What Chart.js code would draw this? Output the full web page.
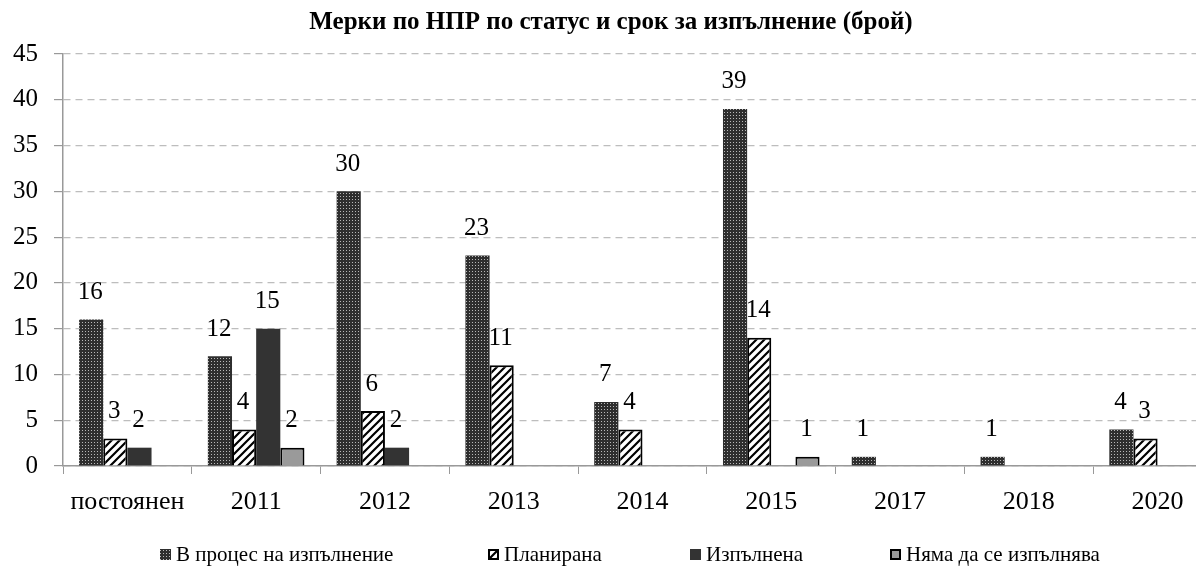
<!DOCTYPE html>
<html lang="bg">
<head>
<meta charset="utf-8">
<title>Мерки по НПР по статус и срок за изпълнение</title>
<script src="https://cdn.jsdelivr.net/npm/chart.js@4/dist/chart.umd.min.js"></script>
<style>
  html, body { margin: 0; padding: 0; background: #fff; overflow: hidden; }
  #wrap { width: 1260px; height: 568px; position: relative; }
</style>
</head>
<body>
<div id="wrap"><canvas id="nprChart"></canvas></div>
<script>
// Chart data
const categories = ['постоянен', '2011', '2012', '2013', '2014', '2015', '2017', '2018', '2020'];
const seriesNames = ['В процес на изпълнение', 'Планирана', 'Изпълнена', 'Няма да се изпълнява'];
const inProgress = [16, 12, 30, 23, 7, 39, 1, 1, 4];
const planned = [3, 4, 6, 11, 4, 14, null, null, 3];
const done = [2, 15, 2, null, null, null, null, null, null];
const wontDo = [null, 2, null, null, null, 1, null, null, null];
const yTicks = [0, 5, 10, 15, 20, 25, 30, 35, 40, 45];

const SERIF = '"Liberation Serif", "Times New Roman", serif';

// Fill patterns
function dotPattern() {
  const c = document.createElement('canvas');
  c.width = 3; c.height = 3;
  const g = c.getContext('2d');
  g.fillStyle = '#2e2e2e';
  g.fillRect(0, 0, 3, 3);
  g.fillStyle = '#b8b8b8';
  g.fillRect(1, 1, 1, 1);
  return g.createPattern(c, 'repeat');
}

function hatchPattern() {
  const c = document.createElement('canvas');
  c.width = 8; c.height = 8;
  const g = c.getContext('2d');
  g.fillStyle = '#fff';
  g.fillRect(0, 0, 8, 8);
  g.strokeStyle = '#000';
  g.lineWidth = 2.2;
  g.beginPath();
  g.moveTo(-2, 10); g.lineTo(10, -2);
  g.moveTo(-6, 6); g.lineTo(6, -6);
  g.moveTo(2, 14); g.lineTo(14, 2);
  g.stroke();
  return g.createPattern(c, 'repeat');
}

const fills = [dotPattern(), hatchPattern(), '#333333', '#9a9a9a'];
const borders = ['#2e2e2e', '#000', '#333333', '#000'];
const borderWidths = [0, 2, 0, 2];

// Value labels above the bars
const valueLabels = {
  id: 'valueLabels',
  afterDatasetsDraw(chart) {
    const ctx = chart.ctx;
    ctx.save();
    ctx.font = '25px ' + SERIF;
    ctx.fillStyle = '#000';
    ctx.textAlign = 'center';
    ctx.textBaseline = 'middle';
    chart.data.datasets.forEach((ds, i) => {
      const meta = chart.getDatasetMeta(i);
      meta.data.forEach((bar, j) => {
        const v = ds.data[j];
        if (v === null || v === undefined) return;
        ctx.fillText(String(v), bar.x - 1, bar.y - 27);
      });
    });
    ctx.restore();
  }
};

// Legend drawn in the bottom padding
const legendX = [160, 488, 690, 890];
const bottomLegend = {
  id: 'bottomLegend',
  afterDraw(chart) {
    const ctx = chart.ctx;
    ctx.save();
    ctx.font = '21px ' + SERIF;
    ctx.textBaseline = 'middle';
    const y = 554;
    chart.data.datasets.forEach((ds, i) => {
      const x = legendX[i];
      ctx.fillStyle = fills[i];
      ctx.fillRect(x, y - 5, 11, 11);
      if (borderWidths[i]) {
        ctx.strokeStyle = '#000';
        ctx.lineWidth = 2;
        ctx.strokeRect(x + 1, y - 4, 9, 9);
      }
      ctx.fillStyle = '#000';
      ctx.fillText(ds.label, x + 16, y + 1);
    });
    ctx.restore();
  }
};

const datasets = [inProgress, planned, done, wontDo].map((values, i) => ({
  label: seriesNames[i],
  data: values,
  backgroundColor: fills[i],
  borderColor: borders[i],
  borderWidth: borderWidths[i],
  categoryPercentage: 0.75,
  barPercentage: 1.0
}));

new Chart(document.getElementById('nprChart'), {
  type: 'bar',
  data: { labels: categories, datasets: datasets },
  plugins: [valueLabels, bottomLegend],
  options: {
    responsive: true,
    maintainAspectRatio: false,
    animation: false,
    layout: { padding: { left: 0, right: 38, top: 0, bottom: 40 } },
    plugins: {
      legend: { display: false },
      tooltip: { enabled: false },
      title: {
        display: true,
        text: 'Мерки по НПР по статус и срок за изпълнение (брой)',
        color: '#000',
        font: { family: SERIF, size: 25, weight: 'bold', lineHeight: 1.0 },
        padding: { top: 10, bottom: 19 }
      }
    },
    scales: {
      x: {
        grid: {
          offset: true,
          drawOnChartArea: false,
          drawTicks: true,
          tickLength: 8,
          color: '#999'
        },
        border: { display: true, color: '#999', width: 1.5 },
        ticks: {
          color: '#000',
          font: { family: SERIF, size: 26 },
          padding: 13,
          maxRotation: 0,
          autoSkip: false
        },
        afterFit(scale) { scale.height = 62; }
      },
      y: {
        min: yTicks[0],
        max: yTicks[yTicks.length - 1],
        afterBuildTicks(scale) { scale.ticks = yTicks.map(v => ({ value: v })); },
        grid: {
          color: '#bdbdbd',
          lineWidth: 1.2,
          drawTicks: true,
          tickLength: 9,
          tickColor: '#999',
          tickBorderDash: []
        },
        border: { display: true, color: '#999', width: 1.5, dash: [7, 5] },
        ticks: {
          color: '#000',
          font: { family: SERIF, size: 25 },
          padding: 16
        },
        afterFit(scale) { scale.width = 63; }
      }
    }
  }
});
</script>
</body>
</html>
